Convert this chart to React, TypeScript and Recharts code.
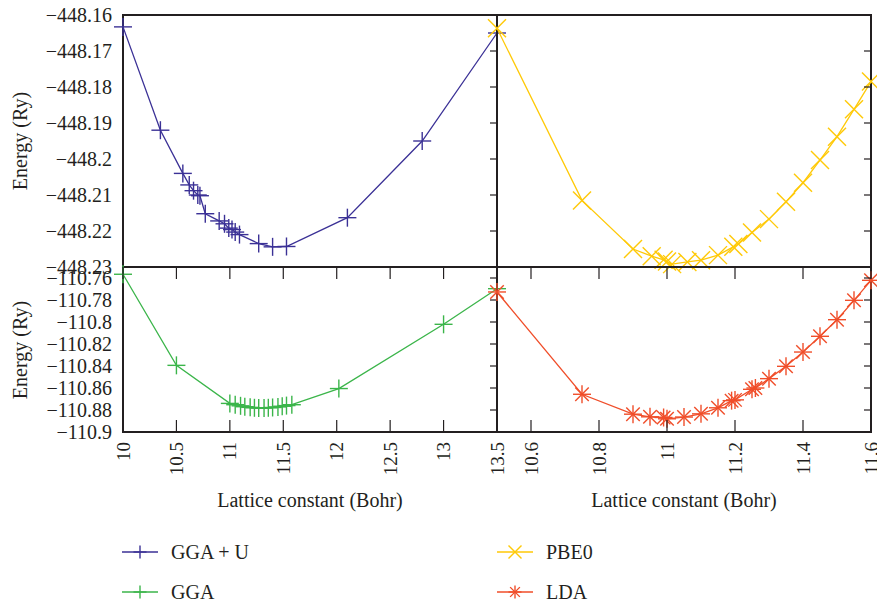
import { LineChart, Line, XAxis, YAxis, ReferenceArea } from "recharts";

// GGA + U (top left panel)
const ggaUX = [10.0, 10.35, 10.56, 10.62, 10.66, 10.7, 10.72, 10.77, 10.9, 10.95, 10.99, 11.02, 11.05, 11.09, 11.27, 11.4, 11.53, 12.1, 12.8, 13.5];
const ggaUE = [-448.1633, -448.192, -448.204, -448.2072, -448.2088, -448.21, -448.2102, -448.2152, -448.2172, -448.218, -448.2192, -448.2196, -448.2203, -448.221, -448.2235, -448.2244, -448.2243, -448.2163, -448.195, -448.165];

// PBE0 (top right panel)
const pbe0X = [10.5, 10.75, 10.9, 10.955, 10.99, 11.0, 11.015, 11.06, 11.1, 11.15, 11.195, 11.21, 11.25, 11.3, 11.35, 11.4, 11.45, 11.5, 11.55, 11.6];
const pbe0E = [-448.1637, -448.2115, -448.225, -448.227, -448.228, -448.2285, -448.2292, -448.2286, -448.2281, -448.2267, -448.2244, -448.2236, -448.2204, -448.2167, -448.2119, -448.2066, -448.2003, -448.1938, -448.1862, -448.1785];

// GGA (bottom left panel)
const ggaX = [10.0, 10.5, 11.0, 11.05, 11.1, 11.14, 11.19, 11.23, 11.27, 11.32, 11.36, 11.4, 11.45, 11.49, 11.53, 11.58, 12.02, 13.0, 13.5];
const ggaE = [-110.7566, -110.8394, -110.874, -110.8752, -110.8762, -110.877, -110.8776, -110.878, -110.8782, -110.8782, -110.878, -110.8777, -110.8772, -110.8766, -110.876, -110.8752, -110.8605, -110.8021, -110.7697];

// LDA (bottom right panel)
const ldaX = [10.5, 10.75, 10.9, 10.95, 10.99, 11.0, 11.05, 11.1, 11.15, 11.19, 11.2, 11.25, 11.26, 11.3, 11.35, 11.4, 11.45, 11.5, 11.55, 11.6];
const ldaE = [-110.7727, -110.8657, -110.8838, -110.8862, -110.8868, -110.888, -110.8864, -110.8835, -110.878, -110.8715, -110.8708, -110.8612, -110.86, -110.8515, -110.8403, -110.8273, -110.813, -110.7979, -110.7803, -110.7621];

const topYTicks = [-448.23, -448.22, -448.21, -448.2, -448.19, -448.18, -448.17, -448.16];
const bottomYTicks = [-110.9, -110.88, -110.86, -110.84, -110.82, -110.8, -110.78, -110.76];
const leftXTicks = [10, 10.5, 11, 11.5, 12, 12.5, 13, 13.5];
const rightXTicks = [10.6, 10.8, 11, 11.2, 11.4, 11.6];

const seriesNames = ["GGA + U", "PBE0", "GGA", "LDA"];
const seriesColors = ["#3b3196", "#ffc907", "#3bb54a", "#f04e2a"];

type Kind = "plus" | "cross" | "star";
const seriesKinds: Kind[] = ["plus", "cross", "plus", "star"];

const FONT = '"Liberation Serif", "DejaVu Serif", "Times New Roman", serif';
const INK = "#231f20";
const W = 877;
const H = 608;
const XAX_H = 40; // x axis band below each panel
// frame edges in page pixels
const LEFT = 123;
const MID = 497;
const RIGHT = 871;
const TOP = 15;
const SPLIT = 267;
const BOTTOM = 432;

const rows = (xs: number[], es: number[]) => xs.map((x, i) => ({ x, e: es[i] }));
const fmt = (v: number) => String(v).replace("-", "\u2212");

function Marker({ cx, cy, kind, color, s = 9 }: { cx?: number; cy?: number; kind: Kind; color: string; s?: number }) {
  if (cx == null || cy == null || isNaN(cx) || isNaN(cy)) return null;
  const d = kind === "star" ? s * 0.75 : s;
  return (
    <g stroke={color} strokeWidth={1.4} fill="none">
      {kind !== "cross" && (
        <>
          <line x1={cx - s} y1={cy} x2={cx + s} y2={cy} />
          <line x1={cx} y1={cy - s} x2={cx} y2={cy + s} />
        </>
      )}
      {kind !== "plus" && (
        <>
          <line x1={cx - d} y1={cy - d} x2={cx + d} y2={cy + d} />
          <line x1={cx - d} y1={cy + d} x2={cx + d} y2={cy - d} />
        </>
      )}
    </g>
  );
}

interface PanelProps {
  data: { x: number; e: number }[];
  color: string;
  kind: Kind;
  x0: number;
  x1: number;
  y0: number;
  y1: number;
  xDomain: [number, number];
  xTicks: number[];
  yDomain: [number, number];
  yTicks: number[];
  yLabels: boolean;
  xLabels: boolean;
}

function Panel(p: PanelProps) {
  const yTick = (props: any) => (
    <g>
      {p.yLabels && (
        <text x={p.x0 - 11} y={props.y} textAnchor="end" dominantBaseline="central" fontSize={20} fontFamily={FONT} fill={INK}>
          {fmt(props.payload.value)}
        </text>
      )}
      <line x1={p.x1 - 7} x2={p.x1} y1={props.y} y2={props.y} stroke={INK} strokeWidth={1.2} />
    </g>
  );

  const xTick = (props: any) => {
    const ly = p.y1 + 10;
    return (
      <g>
        {p.xLabels && (
          <text
            x={props.x}
            y={ly}
            transform={`rotate(-90 ${props.x} ${ly})`}
            textAnchor="end"
            dominantBaseline="central"
            fontSize={19}
            fontFamily={FONT}
            fill={INK}
          >
            {props.payload.value}
          </text>
        )}
        <line x1={props.x} x2={props.x} y1={p.y1} y2={p.y1 - 12} stroke={INK} strokeWidth={1.2} />
        <line x1={props.x} x2={props.x} y1={p.y0} y2={p.y0 + 12} stroke={INK} strokeWidth={1.2} />
      </g>
    );
  };

  return (
    <div style={{ position: "absolute", left: 0, top: 0 }}>
      <LineChart
        width={W}
        height={H}
        data={p.data}
        margin={{ top: p.y0, right: W - p.x1, bottom: H - p.y1 - XAX_H, left: 0 }}
      >
        <XAxis
          dataKey="x"
          type="number"
          domain={p.xDomain}
          ticks={p.xTicks}
          interval={0}
          height={XAX_H}
          axisLine={false}
          tickLine={false}
          tick={p.xLabels ? xTick : false}
        />
        <YAxis
          type="number"
          domain={p.yDomain}
          ticks={p.yTicks}
          interval={0}
          width={p.x0}
          axisLine={false}
          tickLine={false}
          tick={yTick}
        />
        <ReferenceArea
          x1={p.xDomain[0]}
          x2={p.xDomain[1]}
          y1={p.yDomain[0]}
          y2={p.yDomain[1]}
          fill="none"
          fillOpacity={0}
          stroke={INK}
          strokeWidth={2}
        />
        <Line
          type="linear"
          dataKey="e"
          stroke={p.color}
          strokeWidth={1.3}
          isAnimationActive={false}
          dot={(d: any) => <Marker key={`m-${d.index}`} cx={d.cx} cy={d.cy} kind={p.kind} color={p.color} />}
        />
      </LineChart>
    </div>
  );
}

const titleStyle: React.CSSProperties = {
  position: "absolute",
  fontFamily: FONT,
  fontSize: 20,
  color: INK,
  whiteSpace: "nowrap",
  transform: "translate(-50%, -50%)",
};

export default function App() {
  const legendPos = [
    { left: 122, top: 552 },
    { left: 497, top: 552 },
    { left: 122, top: 592 },
    { left: 497, top: 592 },
  ];
  return (
    <div style={{ position: "absolute", left: 0, top: 0, width: W, height: H, background: "#fff" }}>
      <Panel
        data={rows(ggaUX, ggaUE)}
        color={seriesColors[0]}
        kind={seriesKinds[0]}
        x0={LEFT}
        x1={MID}
        y0={TOP}
        y1={SPLIT}
        xDomain={[10, 13.5]}
        xTicks={leftXTicks}
        yDomain={[-448.23, -448.16]}
        yTicks={topYTicks}
        yLabels
        xLabels={false}
      />
      <Panel
        data={rows(pbe0X, pbe0E)}
        color={seriesColors[1]}
        kind={seriesKinds[1]}
        x0={MID}
        x1={RIGHT}
        y0={TOP}
        y1={SPLIT}
        xDomain={[10.5, 11.6]}
        xTicks={rightXTicks}
        yDomain={[-448.23, -448.16]}
        yTicks={topYTicks}
        yLabels={false}
        xLabels={false}
      />
      <Panel
        data={rows(ggaX, ggaE)}
        color={seriesColors[2]}
        kind={seriesKinds[2]}
        x0={LEFT}
        x1={MID}
        y0={SPLIT}
        y1={BOTTOM}
        xDomain={[10, 13.5]}
        xTicks={leftXTicks}
        yDomain={[-110.9, -110.75]}
        yTicks={bottomYTicks}
        yLabels
        xLabels
      />
      <Panel
        data={rows(ldaX, ldaE)}
        color={seriesColors[3]}
        kind={seriesKinds[3]}
        x0={MID}
        x1={RIGHT}
        y0={SPLIT}
        y1={BOTTOM}
        xDomain={[10.5, 11.6]}
        xTicks={rightXTicks}
        yDomain={[-110.9, -110.75]}
        yTicks={bottomYTicks}
        yLabels={false}
        xLabels
      />

      <div style={{ ...titleStyle, left: 20, top: (TOP + SPLIT) / 2, transform: "translate(-50%, -50%) rotate(-90deg)" }}>Energy (Ry)</div>
      <div style={{ ...titleStyle, left: 20, top: (SPLIT + BOTTOM) / 2, transform: "translate(-50%, -50%) rotate(-90deg)" }}>Energy (Ry)</div>
      <div style={{ ...titleStyle, left: (LEFT + MID) / 2, top: 500 }}>Lattice constant (Bohr)</div>
      <div style={{ ...titleStyle, left: (MID + RIGHT) / 2, top: 500 }}>Lattice constant (Bohr)</div>

      {seriesNames.map((name, i) => (
        <div
          key={name}
          style={{ position: "absolute", left: legendPos[i].left, top: legendPos[i].top - 12, height: 24, display: "flex", alignItems: "center" }}
        >
          <svg width={36} height={24} style={{ display: "block" }}>
            <line x1={0} x2={36} y1={12} y2={12} stroke={seriesColors[i]} strokeWidth={1.3} />
            <Marker cx={18} cy={12} kind={seriesKinds[i]} color={seriesColors[i]} s={6.5} />
          </svg>
          <span style={{ marginLeft: 13, fontFamily: FONT, fontSize: 20, color: INK, whiteSpace: "nowrap" }}>{name}</span>
        </div>
      ))}
    </div>
  );
}
